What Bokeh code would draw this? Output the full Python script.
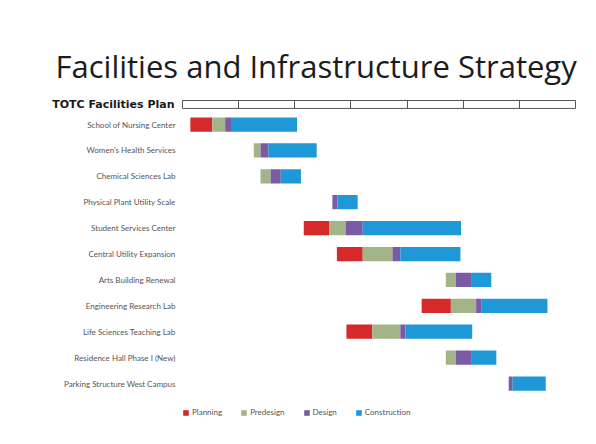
from bokeh.plotting import figure
from bokeh.embed import file_html
from bokeh.resources import INLINE
from bokeh.models import (Range1d, FixedTicker, Legend, LegendItem, Span, LinearAxis,
                          ColumnDataSource)

# ---- data ----
projects = [
    "School of Nursing Center",
    "Women's Health Services",
    "Chemical Sciences Lab",
    "Physical Plant Utility Scale",
    "Student Services Center",
    "Central Utility Expansion",
    "Arts Building Renewal",
    "Engineering Research Lab",
    "Life Sciences Teaching Lab",
    "Residence Hall Phase I (New)",
    "Parking Structure West Campus",
]
start = [2011.14, 2012.27, 2012.39, 2013.67, 2013.16, 2013.75, 2015.69, 2015.26, 2013.92, 2015.69, 2016.81]
planning = [0.39, 0.0, 0.0, 0.0, 0.45, 0.46, 0.0, 0.52, 0.46, 0.0, 0.0]
predesign = [0.23, 0.12, 0.18, 0.0, 0.30, 0.53, 0.18, 0.45, 0.50, 0.18, 0.0]
design = [0.12, 0.14, 0.18, 0.09, 0.30, 0.14, 0.27, 0.09, 0.09, 0.27, 0.07]
construction = [1.16, 0.86, 0.36, 0.36, 1.75, 1.07, 0.36, 1.18, 1.19, 0.45, 0.59]
phase_names = ["Planning", "Predesign", "Design", "Construction"]
phase_colors = ["#d62a2a", "#a2b488", "#7b5ba6", "#1f98d8"]
years = [2011, 2012, 2013, 2014, 2015, 2016, 2017, 2018]
header_text = "TOTC Facilities Plan"

p = figure(width=580, height=428,
           x_range=Range1d(2011, 2018), y_range=Range1d(12.62, 0.073),
           output_backend="svg", toolbar_location=None,
           x_axis_location="above",
           min_border_left=182, min_border_right=5,
           min_border_top=100, min_border_bottom=3,
           title="Facilities and Infrastructure Strategy")
p.outline_line_color = None
p.xgrid.visible = False
p.ygrid.visible = False
p.background_fill_color = "white"
p.border_fill_color = "white"

p.title.text_font = "Open Sans"
p.title.text_font_size = "31px"
p.title.text_font_style = "normal"
p.title.text_color = "#1c1c1c"
p.title.align = "left"
p.title.offset = -127
p.title.standoff = 28

# top timeline header
xa = p.xaxis[0]
xa.ticker = FixedTicker(ticks=years)
xa.major_label_text_font_size = "1px"
xa.major_label_text_color = None
xa.major_label_standoff = 0
xa.major_tick_in = 8
xa.major_tick_out = 0
xa.minor_tick_line_color = None
xa.axis_line_color = "#555555"
xa.major_tick_line_color = "#555555"
p.add_layout(Span(location=0.38, dimension="width", line_color="#555555", line_width=1))

# left labels
ya = p.yaxis[0]
ya.ticker = FixedTicker(ticks=list(range(1, len(projects) + 1)))
ya.major_label_overrides = {i + 1: name for i, name in enumerate(projects)}
ya.axis_line_color = None
ya.major_tick_line_color = None
ya.minor_tick_line_color = None
ya.major_label_text_font = "Lato"
ya.major_label_text_font_size = "8px"
ya.major_label_text_color = "#555555"
ya.major_label_standoff = 1

# header of the label column (second left axis pulled back next to the frame)
hdr = LinearAxis(ticker=FixedTicker(ticks=[0.23]),
                 major_label_overrides={0.23: header_text},
                 axis_line_color=None, major_tick_line_color=None, minor_tick_line_color=None,
                 major_label_text_font="DejaVu Sans", major_label_text_font_style="bold",
                 major_label_text_font_size="11px", major_label_text_color="#1a1a1a",
                 major_label_standoff=-120)
p.add_layout(hdr, "left")

# stacked gantt bars
ys = list(range(1, len(projects) + 1))
left = list(start)
items = []
for name, color, vals in zip(phase_names, phase_colors, [planning, predesign, design, construction]):
    right = [l + v for l, v in zip(left, vals)]
    src = ColumnDataSource(dict(y=ys, left=left, right=right))
    r = p.hbar(y="y", left="left", right="right", height=0.55, source=src,
               fill_color=color, line_color=None)
    items.append(LegendItem(label=name, renderers=[r]))
    left = right

legend = Legend(items=items, orientation="horizontal", location=(0, 8),
                label_text_font="Lato", label_text_font_size="8px", label_text_color="#555555",
                glyph_width=7, glyph_height=7, spacing=18, label_standoff=3,
                border_line_color=None, background_fill_alpha=0, padding=2, margin=0)
p.add_layout(legend)

open("out.html", "w").write(file_html(p, INLINE))
